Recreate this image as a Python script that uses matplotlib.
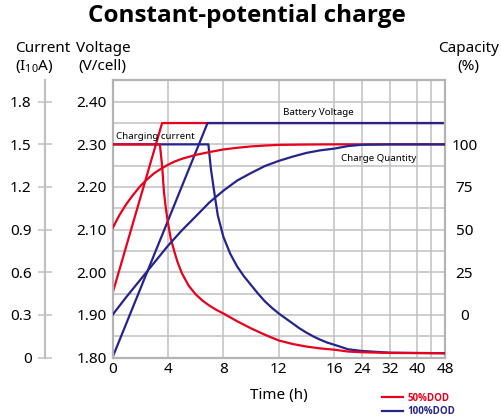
import numpy as np
import matplotlib
matplotlib.use("Agg")
import matplotlib.pyplot as plt
from matplotlib import font_manager as fm

plt.rcParams['font.family'] = ['Noto Sans', 'DejaVu Sans']
plt.rcParams['mathtext.fontset'] = 'custom'
plt.rcParams['mathtext.rm'] = 'Noto Sans'

# colours
RED = '#e8001c'
BLUE = '#25248c'
GRID = '#c0c0c0'

# time axis ticks (h)
time_ticks = [0, 4, 8, 12, 16, 24, 32, 40, 48]

# charging voltage (V/cell)
red_volt_t = [0, 3.58, 48]
red_volt_v = [1.95, 2.35, 2.35]
blue_volt_t = [0, 6.86, 48]
blue_volt_v = [1.80, 2.35, 2.35]

# charging current (I10 A)
red_cur_t = [0, 3.42, 3.59, 3.71, 3.85, 4.0, 4.2, 4.45, 4.7, 5.0, 5.5, 6.0, 6.5, 7.0, 7.5, 8.0, 9.0, 10, 11, 12, 13, 14, 15, 16, 20, 24, 32, 48]
red_cur_a = [1.5, 1.5, 1.338, 1.17, 1.05, 0.95, 0.84, 0.75, 0.67, 0.595, 0.505, 0.445, 0.40, 0.365, 0.335, 0.31, 0.255, 0.205, 0.16, 0.12, 0.095, 0.077, 0.064, 0.055, 0.042, 0.037, 0.032, 0.03]
blue_cur_t = [0, 6.92, 7.1, 7.35, 7.6, 8.0, 8.5, 9.0, 9.5, 10, 10.5, 11, 11.5, 12, 12.5, 13, 13.5, 14, 14.5, 15, 15.5, 16, 20, 24, 32, 48]
blue_cur_a = [1.5, 1.5, 1.33, 1.16, 1.0, 0.85, 0.73, 0.64, 0.57, 0.51, 0.45, 0.395, 0.35, 0.31, 0.275, 0.24, 0.205, 0.175, 0.148, 0.125, 0.105, 0.09, 0.058, 0.046, 0.034, 0.03]

# charge quantity (%)
red_cap_t = [0, 0.5, 1, 1.5, 2, 2.5, 3, 3.5, 4, 4.5, 5, 6, 7, 8, 9, 10, 11, 12, 14, 16, 48]
red_cap_p = [50.75, 58.5, 65, 70.5, 75.5, 79.5, 83, 85.7, 88, 90, 91.5, 93.8, 95.5, 97, 98, 98.8, 99.3, 99.7, 99.9, 100, 100]
blue_cap_t = [0, 1, 2, 3, 4, 5, 6, 7, 8, 9, 10, 11, 12, 13, 14, 15, 16, 20, 24, 32, 48]
blue_cap_p = [0, 10.5, 20.5, 30.5, 40.5, 49.5, 57.7, 66, 72.8, 78.8, 83.2, 87.3, 90.3, 92.8, 95, 96.5, 97.5, 99, 99.75, 100, 100]


# time axis is linear up to 16 h, compressed 4x after that
def fwd(t):
    t = np.asarray(t, dtype=float)
    return np.where(t <= 16, t, 16 + (t - 16) / 4)


def inv(x):
    x = np.asarray(x, dtype=float)
    return np.where(x <= 16, x, 16 + (x - 16) * 4)


# pick a family that really has a bold face
def is_bold(w):
    if isinstance(w, str):
        return w in ('bold', 'semibold', 'demibold', 'heavy', 'extra bold', 'black')
    return w >= 600


bold_fams = {f.name for f in fm.fontManager.ttflist if is_bold(f.weight)}
BOLD_FAMILY = next((n for n in ['Noto Sans', 'Open Sans', 'Lato', 'Roboto', 'Liberation Sans']
                    if n in bold_fams), 'DejaVu Sans')

fig = plt.figure(figsize=(5.01, 4.17), dpi=100)
ax = fig.add_axes([112.5 / 501, 1 - 357.5 / 417, 332.5 / 501, 277.5 / 417])
ax.set_xscale('function', functions=(fwd, inv))
ax.set_xlim(0, 48)
ax.set_ylim(1.80, 2.451)

ax.set_xticks(time_ticks)
ax.set_xticks([44], minor=True)
ax.set_yticks([1.80, 1.90, 2.00, 2.10, 2.20, 2.30, 2.40])
ax.set_yticks(np.arange(1.85, 2.45, 0.1), minor=True)
ax.set_yticklabels(['1.80', '1.90', '2.00', '2.10', '2.20', '2.30', '2.40'])
ax.tick_params(which='both', length=0)
ax.tick_params(axis='y', pad=4, labelsize=11)
ax.tick_params(axis='x', pad=3, labelsize=11)
ax.grid(True, which='both', color=GRID, lw=1.1)
ax.set_axisbelow(True)
for s in ax.spines.values():
    s.set_color('#b4b4b4')
    s.set_linewidth(1.6)

l_red, = ax.plot(red_volt_t, red_volt_v, color=RED, lw=1.6, label='50%DOD')
l_blue, = ax.plot(blue_volt_t, blue_volt_v, color=BLUE, lw=1.6, label='100%DOD')
ax.set_xlabel('Time (h)', fontsize=11, labelpad=8)

# current axis, detached on the left
ax_cur = ax.twinx()
ax_cur.set_ylim(0, (2.451 - 1.80) * 3)
ax_cur.yaxis.tick_left()
ax_cur.spines['left'].set_position(('outward', 48.6))
for side in ['right', 'top', 'bottom']:
    ax_cur.spines[side].set_visible(False)
ax_cur.spines['left'].set_color('#c0c0c0')
ax_cur.spines['left'].set_linewidth(1.6)
ax_cur.set_yticks([0, 0.3, 0.6, 0.9, 1.2, 1.5, 1.8])
ax_cur.set_yticklabels(['0', '0.3', '0.6', '0.9', '1.2', '1.5', '1.8'])
ax_cur.tick_params(axis='y', direction='inout', length=10, width=1.1, color='#c0c0c0', pad=4.6, labelsize=11)
ax_cur.plot(blue_cur_t, blue_cur_a, color=BLUE, lw=1.6)
ax_cur.plot(red_cur_t, red_cur_a, color=RED, lw=1.6)

# capacity axis on the right
ax_cap = ax.twinx()
ax_cap.set_ylim(-25, (2.451 - 1.90) * 250)
for s in ax_cap.spines.values():
    s.set_visible(False)
ax_cap.set_yticks([0, 25, 50, 75, 100])
ax_cap.tick_params(axis='y', length=0, pad=14, labelsize=11)
for lab in ax_cap.get_yticklabels():
    lab.set_horizontalalignment('center')
ax_cap.plot(red_cap_t, red_cap_p, color=RED, lw=1.6)
ax_cap.plot(blue_cap_t, blue_cap_p, color=BLUE, lw=1.6)

# in-plot labels
ax.text(0.25, 2.319, 'Charging current', fontsize=7, ha='left', va='center')
ax.text(12.34, 2.375, 'Battery Voltage', fontsize=7, ha='left', va='center')
ax.text(18.0, 2.268, 'Charge Quantity', fontsize=7, ha='left', va='center')

# titles and axis headers
fig.text(247 / 501, 1 - 22 / 417, 'Constant-potential charge', fontsize=17.5, fontweight='bold',
         family=BOLD_FAMILY, ha='center', va='baseline')
fig.text(15 / 501, 1 - 51.7 / 417, 'Current', fontsize=11, ha='left', va='baseline')
fig.text(76 / 501, 1 - 51.7 / 417, 'Voltage', fontsize=11, ha='left', va='baseline')
fig.text(15 / 501, 1 - 70 / 417, r'(I$_{10}$A)', fontsize=11, ha='left', va='baseline')
fig.text(78 / 501, 1 - 70 / 417, '(V/cell)', fontsize=11, ha='left', va='baseline')
fig.text(437.7 / 501, 1 - 51.7 / 417, 'Capacity', fontsize=11, ha='left', va='baseline')
fig.text(468 / 501, 1 - 70 / 417, '(%)', fontsize=11, ha='center', va='baseline')

fig.legend(handles=[l_red, l_blue], loc='center left', bbox_to_anchor=(382 / 501, 1 - 405 / 417),
           frameon=False, borderpad=0, borderaxespad=0, handlelength=2.16, handletextpad=0.5,
           labelspacing=0.3, labelcolor='linecolor',
           prop={'size': 7, 'weight': 'bold', 'family': BOLD_FAMILY})

fig.savefig('out.png', dpi=100)
